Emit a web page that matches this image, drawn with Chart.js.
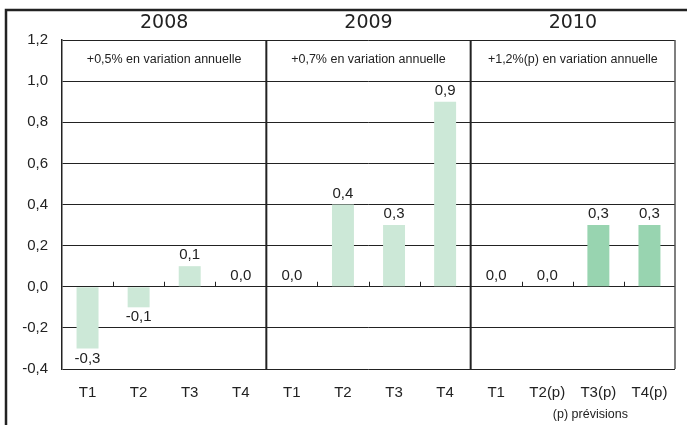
<!DOCTYPE html>
<html>
<head>
<meta charset="utf-8">
<script src="https://cdn.jsdelivr.net/npm/chart.js@4/dist/chart.umd.min.js"></script>
<style>
  html, body { margin: 0; padding: 0; background: #fff; }
  #wrap { width: 687px; height: 425px; }
</style>
</head>
<body>
<div id="wrap"><canvas id="chartContainer" width="687" height="425"></canvas></div>
<script>
const quarters = ['T1', 'T2', 'T3', 'T4', 'T1', 'T2', 'T3', 'T4', 'T1', 'T2(p)', 'T3(p)', 'T4(p)'];
const growth = [-0.3, -0.1, 0.1, 0.0, 0.0, 0.4, 0.3, 0.9, 0.0, 0.0, 0.3, 0.3];
const years = ['2008', '2009', '2010'];
const annualNotes = ['+0,5% en variation annuelle', '+0,7% en variation annuelle', '+1,2%(p) en variation annuelle'];
const yTicks = [-0.4, -0.2, 0.0, 0.2, 0.4, 0.6, 0.8, 1.0, 1.2];
const footNote = '(p) prévisions';

const LIGHT = 'rgb(204, 232, 215)';
const DARK = 'rgb(152, 212, 176)';
const INK = '#222';

function fmt(v) {
  return v.toFixed(1).replace('.', ',');
}

// cadre exterieur + reperes, separateurs d'annees, etiquettes
const decorations = {
  id: 'decorations',
  beforeDraw(chart) {
    const ctx = chart.ctx;
    ctx.save();
    ctx.fillStyle = '#fff';
    ctx.fillRect(0, 0, chart.width, chart.height);
    ctx.strokeStyle = INK;
    ctx.lineWidth = 2.5;
    ctx.beginPath();
    ctx.moveTo(6, chart.height);
    ctx.lineTo(6, 10);
    ctx.lineTo(chart.width, 10);
    ctx.stroke();
    ctx.restore();
  },
  afterDatasetsDraw(chart) {
    const ctx = chart.ctx;
    const x = chart.scales.x;
    const y = chart.scales.y;
    const area = chart.chartArea;
    const zero = y.getPixelForValue(0);
    ctx.save();

    // petits traits sur l'axe zero
    ctx.strokeStyle = INK;
    ctx.lineWidth = 1;
    for (let i = 0; i < quarters.length - 1; i++) {
      if ((i + 1) % 4 === 0) continue;
      const bx = Math.round((x.getPixelForValue(i) + x.getPixelForValue(i + 1)) / 2) + 0.5;
      ctx.beginPath();
      ctx.moveTo(bx, zero);
      ctx.lineTo(bx, zero - 5);
      ctx.stroke();
    }

    // separateurs d'annees
    ctx.lineWidth = 2;
    for (let g = 1; g < years.length; g++) {
      const sx = (x.getPixelForValue(g * 4 - 1) + x.getPixelForValue(g * 4)) / 2;
      ctx.beginPath();
      ctx.moveTo(sx, area.top);
      ctx.lineTo(sx, area.bottom);
      ctx.stroke();
    }
    // bord droit
    ctx.strokeStyle = '#555';
    ctx.lineWidth = 1.5;
    ctx.beginPath();
    ctx.moveTo(area.right, area.top);
    ctx.lineTo(area.right, area.bottom);
    ctx.stroke();

    // annees et variations annuelles
    ctx.fillStyle = INK;
    ctx.textAlign = 'center';
    ctx.textBaseline = 'middle';
    years.forEach((yr, g) => {
      const cx = (x.getPixelForValue(g * 4) + x.getPixelForValue(g * 4 + 3)) / 2;
      ctx.font = '19px "DejaVu Sans"';
      ctx.fillText(yr, cx, 23);
      ctx.font = '12.5px "Liberation Sans"';
      ctx.fillText(annualNotes[g], cx, 60);
    });

    // valeurs des barres
    ctx.font = '15px "Liberation Sans"';
    const meta = chart.getDatasetMeta(0);
    meta.data.forEach((bar, i) => {
      const v = growth[i];
      const ty = v < 0 ? bar.y + 10 : bar.y - 11;
      ctx.fillText(fmt(v), bar.x, ty);
    });

    // note
    ctx.font = '12.5px "Liberation Sans Narrow", "Liberation Sans"';
    ctx.fillText(footNote, x.getPixelForValue(quarters.length - 2) - 8, 415);
    ctx.restore();
  }
};

new Chart(document.getElementById('chartContainer'), {
  type: 'bar',
  data: {
    labels: quarters,
    datasets: [{
      data: growth,
      backgroundColor: quarters.map(q => q.includes('(p)') ? DARK : LIGHT),
      borderWidth: 0,
      barPercentage: 0.43,
      categoryPercentage: 1
    }]
  },
  options: {
    responsive: false,
    animation: false,
    layout: { padding: { left: 6, right: 12, top: 40, bottom: 0 } },
    plugins: {
      legend: { display: false },
      tooltip: { enabled: false }
    },
    scales: {
      x: {
        grid: { display: false },
        border: { display: false },
        ticks: {
          color: INK,
          padding: 7,
          font: { family: 'Liberation Sans', size: 15 },
          maxRotation: 0,
          autoSkip: false
        },
        afterFit(scale) { scale.height = 56; }
      },
      y: {
        min: -0.4,
        max: 1.2,
        afterBuildTicks(scale) {
          scale.ticks = yTicks.map(v => ({ value: v }));
        },
        grid: {
          color: INK,
          lineWidth: 1,
          drawTicks: false
        },
        border: { color: INK, width: 1.5 },
        ticks: {
          color: INK,
          padding: 14,
          font: { family: 'Liberation Sans', size: 15 },
          callback: (v) => fmt(v)
        },
        afterFit(scale) { scale.width = 56; }
      }
    }
  },
  plugins: [decorations]
});
</script>
</body>
</html>
